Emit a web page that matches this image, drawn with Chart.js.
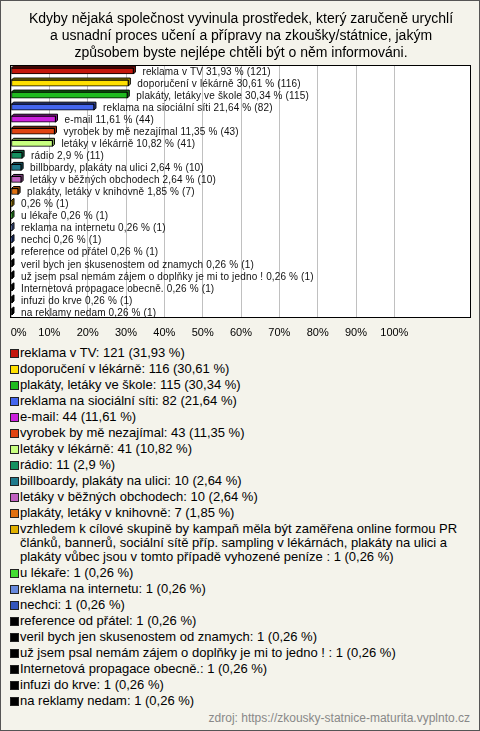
<!DOCTYPE html>
<html>
<head>
<meta charset="utf-8">
<script src="https://cdn.jsdelivr.net/npm/chart.js@4"></script>
<style>
html,body{margin:0;padding:0;}
body{width:480px;height:731px;background:#f4f3eb;font-family:"Liberation Sans",Arial,sans-serif;position:relative;overflow:hidden;}
#frame{position:absolute;left:0;top:0;width:478px;height:729px;border:1px solid #555;pointer-events:none;}
#wrap{position:absolute;left:0;top:0;width:480px;height:345px;}
#legend{position:absolute;left:10px;top:345px;width:462px;font-size:13px;color:#000;}
.item{display:flex;align-items:flex-start;line-height:14px;padding:1px 0;}
.sw{width:7px;height:7px;border:1px solid #222;margin:3px 1px 0 0;flex:none;}
#src{position:absolute;right:10px;top:711px;font-size:12px;color:#888;}
</style>
</head>
<body>
<div id="wrap"><canvas id="chart" width="480" height="345"></canvas></div>
<div id="legend"></div>
<div id="src">zdroj: https://zkousky-statnice-maturita.vyplnto.cz</div>
<div id="frame"></div>
<script>
const titleLines = [
    'Kdyby nějaká společnost vyvinula prostředek, který zaručeně urychlí',
    'a usnadní proces učení a přípravy na zkoušky/státnice, jakým',
    'způsobem byste nejlépe chtěli být o něm informováni.'
];

const categories = [
    'reklama v TV',
    'doporučení v lékárně',
    'plakáty, letáky ve škole',
    'reklama na siociální síti',
    'e-mail',
    'vyrobek by mě nezajímal',
    'letáky v lékárně',
    'rádio',
    'billboardy, plakáty na ulici',
    'letáky v běžných obchodech',
    'plakáty, letáky v knihovně',
    'vzhledem k cílové skupině by kampaň měla být zaměřena online formou PR článků, bannerů, sociální sítě příp. sampling v lékárnách, plakáty na ulici a plakáty vůbec jsou v tomto případě vyhozené peníze ',
    'u lékaře',
    'reklama na internetu',
    'nechci',
    'reference od přátel',
    'veril bych jen skusenostem od znamych',
    'už jsem psal nemám zájem o doplňky je mi to jedno ! ',
    'Internetová propagace obecně.',
    'infuzi do krve',
    'na reklamy nedam'
];

const counts = [121, 116, 115, 82, 44, 43, 41, 11, 10, 10, 7, 1, 1, 1, 1, 1, 1, 1, 1, 1, 1];

const percents = [31.93, 30.61, 30.34, 21.64, 11.61, 11.35, 10.82, 2.9, 2.64, 2.64, 1.85,
    0.26, 0.26, 0.26, 0.26, 0.26, 0.26, 0.26, 0.26, 0.26, 0.26];

const colors = ['#c4170c', '#ffe000', '#1fbb1f', '#4466ee', '#cc22dd', '#e04412', '#c8ff80',
    '#13905f', '#1f7a8c', '#c060c0', '#e07010', '#e0b000', '#44dd33', '#6688dd', '#3355bb',
    '#000000', '#000000', '#000000', '#000000', '#000000', '#000000'];

const xTicks = [0, 10, 20, 30, 40, 50, 60, 70, 80, 90, 100];

function fmt(v) {
    return String(v).replace('.', ',');
}

function darker(hex, f) {
    const n = parseInt(hex.slice(1), 16);
    const r = Math.round(((n >> 16) & 255) * f);
    const g = Math.round(((n >> 8) & 255) * f);
    const b = Math.round((n & 255) * f);
    return `rgb(${r},${g},${b})`;
}

// white plot area + black frame
const plotFrame = {
    id: 'plotFrame',
    beforeDraw(chart) {
        const a = chart.chartArea, ctx = chart.ctx;
        ctx.save();
        ctx.fillStyle = '#fff';
        ctx.fillRect(a.left, a.top, a.right - a.left, a.bottom - a.top);
        ctx.restore();
    },
    afterDatasetsDraw(chart) {
        const a = chart.chartArea, ctx = chart.ctx;
        ctx.save();
        ctx.strokeStyle = '#000';
        ctx.lineWidth = 1;
        ctx.strokeRect(Math.round(a.left) - 0.5, Math.round(a.top) + 0.5,
            Math.round(a.right - a.left), Math.round(a.bottom - a.top) - 1);
        ctx.restore();
    }
};

// fake 3d depth behind each bar
const barDepth = {
    id: 'barDepth',
    beforeDatasetsDraw(chart) {
        const ctx = chart.ctx;
        const d = 2;
        chart.getDatasetMeta(0).data.forEach((el, i) => {
            const top = el.y - el.height / 2, bot = el.y + el.height / 2;
            ctx.save();
            ctx.fillStyle = darker(colors[i], 0.65);
            ctx.strokeStyle = '#000';
            ctx.lineWidth = 1;
            ctx.beginPath();
            ctx.moveTo(el.base, top);
            ctx.lineTo(el.base + d, top - d);
            ctx.lineTo(el.x + d, top - d);
            ctx.lineTo(el.x + d, bot - d);
            ctx.lineTo(el.x, bot);
            ctx.lineTo(el.x, top);
            ctx.closePath();
            ctx.fill();
            ctx.stroke();
            ctx.restore();
        });
    }
};

const barLabels = {
    id: 'barLabels',
    afterDatasetsDraw(chart) {
        const ctx = chart.ctx;
        ctx.save();
        ctx.font = '10px "Liberation Sans", Arial, sans-serif';
        ctx.letterSpacing = '0.15px';
        ctx.fillStyle = '#111';
        ctx.textBaseline = 'middle';
        chart.getDatasetMeta(0).data.forEach((el, i) => {
            const name = categories[i].length > 60 ? '' : categories[i].trim();
            const txt = (name ? name + ' ' : '') + fmt(percents[i]) + ' % (' + counts[i] + ')';
            ctx.fillText(txt, el.x + 9, el.y + 1);
        });
        ctx.restore();
    }
};

new Chart(document.getElementById('chart'), {
    type: 'bar',
    data: {
        labels: categories,
        datasets: [{
            data: percents,
            backgroundColor: colors,
            borderColor: '#000',
            borderWidth: 1,
            borderSkipped: false,
            barThickness: 6
        }]
    },
    options: {
        indexAxis: 'y',
        responsive: false,
        animation: false,
        layout: { padding: { left: 11, right: 9, top: 0, bottom: 0 } },
        plugins: {
            legend: { display: false },
            tooltip: { enabled: false },
            title: {
                display: true,
                text: titleLines,
                color: '#000',
                font: { size: 14, family: '"Liberation Sans", Arial, sans-serif', weight: 'normal', lineHeight: 1.214 },
                padding: { top: 11, bottom: 3 }
            }
        },
        scales: {
            x: {
                min: 0,
                max: 120,
                afterBuildTicks: s => { s.ticks = xTicks.map(v => ({ value: v })).concat([{ value: 120 }]); },
                afterFit: s => { s.height = 27; s.paddingLeft = 0; s.paddingRight = 0; },
                ticks: {
                    autoSkip: false,
                    maxRotation: 0,
                    padding: 8,
                    color: '#000',
                    font: { size: 11, family: '"Liberation Sans", Arial, sans-serif' },
                    // first label sits right of its gridline, as in the original
                    callback: v => (v === 0 ? '     0%' : xTicks.includes(v) ? v + '%' : '')
                },
                grid: {
                    color: c => (c.tick && xTicks.includes(c.tick.value) ? '#c0c0c0' : 'rgba(0,0,0,0)'),
                    drawTicks: false
                },
                border: { display: false }
            },
            y: { display: false, offset: true }
        }
    },
    plugins: [plotFrame, barDepth, barLabels]
});

// legend below the chart
const legend = document.getElementById('legend');
categories.forEach((name, i) => {
    const item = document.createElement('div');
    item.className = 'item';
    const sw = document.createElement('span');
    sw.className = 'sw';
    sw.style.background = colors[i];
    const t = document.createElement('span');
    t.textContent = name + ': ' + counts[i] + ' (' + fmt(percents[i]) + ' %)';
    item.appendChild(sw);
    item.appendChild(t);
    legend.appendChild(item);
});
</script>
</body>
</html>
